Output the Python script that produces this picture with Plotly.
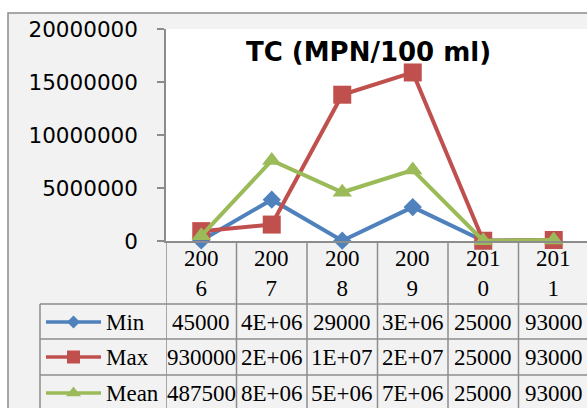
import plotly.graph_objects as go

# ---------------- data ----------------
years = ["2006", "2007", "2008", "2009", "2010", "2011"]
min_vals = [45000, 3900000, 29000, 3200000, 25000, 93000]
max_vals = [930000, 1550000, 13800000, 15900000, 25000, 93000]
mean_vals = [487500, 7600000, 4600000, 6700000, 25000, 93000]
series_names = ["Min", "Max", "Mean"]
y_ticks = [0, 5000000, 10000000, 15000000, 20000000]
title_text = "TC (MPN/100 ml)"

# ---------------- style ----------------
W, H = 587, 408
COLORS = ["#4f81bd", "#c0504d", "#9bbb59"]
SYMBOLS = ["diamond", "square", "triangle-up"]
MSIZE = [14, 18, 17]
LSIZE = [10, 13, 13]
GRID = "#8c8c8c"
CHART_BG = "#f2f2f2"
SANS = "DejaVu Sans"
SERIF = "Liberation Serif"

PLOT_L, PLOT_T, PLOT_B = 166, 29, 241
COL_W = 70.5
ROW_Y = [304, 339, 375]          # tops of the Min / Max / Mean rows
ROW_C = [322, 357, 393]          # centres of the rows
LEG_L = 40


def px(x):
    return x / W


def py(y):
    return 1 - y / H


def excel_general(v):
    s = str(int(round(v)))
    if len(s) <= 6:
        return s
    return f"{v:.0E}"


series = [min_vals, max_vals, mean_vals]
xs = list(range(len(years)))

fig = go.Figure()
for name, vals, c, s, ms in zip(series_names, series, COLORS, SYMBOLS, MSIZE):
    fig.add_trace(go.Scatter(
        x=xs, y=vals, name=name, mode="lines+markers",
        line=dict(color=c, width=4),
        marker=dict(symbol=s, size=ms, color=c),
        cliponaxis=False, showlegend=False, hoverinfo="skip",
    ))

# legend keys inside the data table (pixel overlay axis)
for i, (c, s, ls) in enumerate(zip(COLORS, SYMBOLS, LSIZE)):
    yc = ROW_C[i]
    fig.add_trace(go.Scatter(
        x=[46, 101], y=[yc, yc], mode="lines", xaxis="x2", yaxis="y2",
        line=dict(color=c, width=3.5), showlegend=False, hoverinfo="skip",
        cliponaxis=False))
    fig.add_trace(go.Scatter(
        x=[73.5], y=[yc], mode="markers", xaxis="x2", yaxis="y2",
        marker=dict(symbol=s, size=ls, color=c), showlegend=False,
        hoverinfo="skip", cliponaxis=False))

shapes = []
# chart area background + border
shapes.append(dict(type="rect", xref="paper", yref="paper", layer="below",
                   x0=px(8), x1=px(W + 10), y0=py(13), y1=py(H + 10),
                   fillcolor=CHART_BG, line=dict(color=GRID, width=1.5)))
# plot area
shapes.append(dict(type="rect", xref="paper", yref="paper", layer="below",
                   x0=px(PLOT_L), x1=px(W + 10), y0=py(PLOT_B), y1=py(PLOT_T),
                   fillcolor="white", line=dict(width=0)))
# table horizontal lines
for yy in ROW_Y:
    shapes.append(dict(type="line", xref="paper", yref="paper",
                       x0=px(LEG_L), x1=px(W + 5), y0=py(yy), y1=py(yy),
                       line=dict(color=GRID, width=1.5)))
# legend column left border
shapes.append(dict(type="line", xref="paper", yref="paper",
                   x0=px(LEG_L), x1=px(LEG_L), y0=py(ROW_Y[0]), y1=py(H + 5),
                   line=dict(color=GRID, width=1.5)))
# column borders
for i in range(len(years)):
    shapes.append(dict(type="line", xref="x", yref="paper",
                       x0=i - 0.5, x1=i - 0.5, y0=py(PLOT_B), y1=py(H + 5),
                       line=dict(color=GRID, width=1.5)))

annotations = []
annotations.append(dict(text="<b>" + title_text + "</b>", xref="paper", yref="paper",
                        x=px(368), y=py(52), xanchor="center", yanchor="middle",
                        showarrow=False, font=dict(family=SANS, size=26, color="black")))
for i, yr in enumerate(years):
    annotations.append(dict(text=yr[:3] + "<br>" + yr[3:], xref="x", yref="paper",
                            x=i, y=py(273), xanchor="center", yanchor="middle",
                            showarrow=False,
                            font=dict(family=SERIF, size=23, color="black")))
for r, (name, vals) in enumerate(zip(series_names, series)):
    annotations.append(dict(text=name, xref="paper", yref="paper",
                            x=px(104), y=py(ROW_C[r]), xanchor="left", yanchor="middle",
                            showarrow=False,
                            font=dict(family=SERIF, size=23, color="black")))
    for i, v in enumerate(vals):
        annotations.append(dict(text=excel_general(v), xref="x", yref="paper",
                                x=i, y=py(ROW_C[r]), xanchor="center", yanchor="middle",
                                showarrow=False,
                                font=dict(family=SERIF, size=23, color="black")))

fig.update_layout(
    template="none",
    width=W, height=H,
    margin=dict(l=0, r=0, t=0, b=0, pad=0, autoexpand=False),
    paper_bgcolor="white", plot_bgcolor="rgba(0,0,0,0)",
    xaxis=dict(domain=[px(PLOT_L), 1],
               range=[-0.5, -0.5 + (W - PLOT_L) / COL_W],
               showticklabels=False, ticks="", showgrid=False, zeroline=False,
               automargin=False,
               showline=True, linecolor=GRID, linewidth=1.5, fixedrange=True),
    yaxis=dict(domain=[py(PLOT_B), py(PLOT_T)], range=[0, 20000000],
               tickvals=y_ticks, ticktext=[str(v) for v in y_ticks],
               ticks="outside", ticklen=7, tickcolor=GRID, tickwidth=1.5,
               showline=True, linecolor=GRID, linewidth=1.5, automargin=False,
               showgrid=False, zeroline=False, ticklabelstandoff=15,
               tickfont=dict(family=SANS, size=21.5, color="black"), fixedrange=True),
    xaxis2=dict(domain=[0, 1], range=[0, W], visible=False, anchor="y2",
                automargin=False, fixedrange=True),
    yaxis2=dict(domain=[0, 1], range=[H, 0], visible=False, anchor="x2",
                automargin=False, fixedrange=True),
    shapes=shapes, annotations=annotations,
)

fig.write_html(
    "out.html",
    config={"displayModeBar": False},
    post_script="document.body.style.margin='0';document.body.style.overflow='hidden';",
)
